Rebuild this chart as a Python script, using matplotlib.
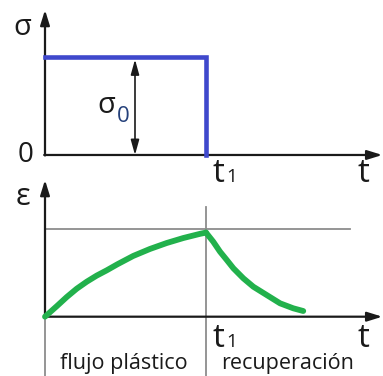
import matplotlib.pyplot as plt

plt.rcParams['font.family'] = ['Open Sans', 'DejaVu Sans']

# load history: constant stress sigma0 applied until t1, then removed
t1 = 1.0
sigma0 = 1.0
t_load = [0.0, t1, t1]
s_load = [sigma0, sigma0, 0.0]

# strain response (normalised), creep phase then recovery phase
t_creep = [0.0, 0.073, 0.135, 0.197, 0.259, 0.321, 0.383, 0.45, 0.548, 0.652,
           0.756, 0.859, 0.963, 1.0]
eps_creep = [0.0, 0.12, 0.225, 0.32, 0.40, 0.47, 0.53, 0.60, 0.695, 0.775,
             0.843, 0.90, 0.948, 0.962]
t_rec = [1.0, 1.045, 1.087, 1.129, 1.17, 1.232, 1.294, 1.377, 1.46, 1.542, 1.604]
eps_rec = [0.962, 0.858, 0.744, 0.649, 0.554, 0.439, 0.343, 0.248, 0.153, 0.096, 0.065]
eps_ref = 1.0

phase_labels = ['flujo plástico', 'recuperación']

blue = '#3f48cc'
green = '#22b14c'
ink = '#1a1a1a'
grey = '#8c8c8c'

fig = plt.figure(figsize=(3.83, 3.76), dpi=100)
ax1 = fig.add_axes([0, 0.5426, 1, 0.4574])
ax2 = fig.add_axes([0, 0, 1, 0.5426])
for ax in (ax1, ax2):
    ax.set_xlim(-0.2795, 2.0994)
    ax.axis('off')
ax1.set_ylim(-0.1735, 1.5816)
ax2.set_ylim(-0.6785, 1.6556)

head = dict(arrowstyle='-|>,head_length=0.9,head_width=0.28', color=ink,
            lw=1.6, shrinkA=0, shrinkB=0)


def t_label(ax, y):
    ax.text(1.043, y, 't', fontsize=24, color=ink, ha='left', va='baseline')
    ax.text(1.124, y, '1', fontsize=13.5, color=ink, ha='left', va='baseline')


# --- stress panel
ax1.annotate('', xy=(0, 1.48), xytext=(0, -0.005), arrowprops=head)
ax1.annotate('', xy=(2.095, 0), xytext=(-0.005, 0), arrowprops=head)
ax1.plot(t_load, s_load, color=blue, lw=3.3, solid_joinstyle='miter', zorder=3)
ax1.annotate('', xy=(0.559, 0.975), xytext=(0.559, 0.0),
             arrowprops=dict(arrowstyle='<|-|>,head_length=0.9,head_width=0.25',
                             color=ink, lw=1.2, shrinkA=0, shrinkB=0))

ax1.text(-0.143, 1.224, 'σ', fontsize=21, color=ink, ha='center', va='baseline')
ax1.text(-0.118, -0.071, '0', fontsize=20, color=ink, ha='center', va='baseline')
ax1.text(0.382, 0.43, 'σ', fontsize=21, color=ink, ha='center', va='baseline')
ax1.text(0.447, 0.337, '0', fontsize=16, color='#24407a', ha='left', va='baseline')
t_label(ax1, -0.2755)
ax1.text(1.938, -0.2755, 't', fontsize=24, color=ink, ha='left', va='baseline')

# --- strain panel
ax2.plot([0, 1.894], [eps_ref, eps_ref], color=grey, lw=1.3)
ax2.plot([t1, t1], [1.255, -0.6785], color=grey, lw=1.3)
ax2.plot([0, 0], [0, -0.6785], color=grey, lw=1.3)
ax2.annotate('', xy=(0, 1.564), xytext=(0, -0.005), arrowprops=head)
ax2.annotate('', xy=(2.095, 0), xytext=(-0.005, 0), arrowprops=head)
ax2.plot(t_creep, eps_creep, color=green, lw=4.2, solid_capstyle='round',
         solid_joinstyle='round', zorder=3)
ax2.plot(t_rec, eps_rec, color=green, lw=4.2, solid_capstyle='round',
         solid_joinstyle='round', zorder=3)

ax2.text(-0.134, 1.278, 'ε', fontsize=22, color=ink, ha='center', va='baseline')
t_label(ax2, -0.347)
ax2.text(1.938, -0.347, 't', fontsize=24, color=ink, ha='left', va='baseline')
ax2.text(0.49, -0.6, phase_labels[0], fontsize=15.5, color=ink, ha='center', va='baseline')
ax2.text(1.509, -0.6, phase_labels[1], fontsize=15.5, color=ink, ha='center', va='baseline')

fig.savefig('out.png', dpi=100)
